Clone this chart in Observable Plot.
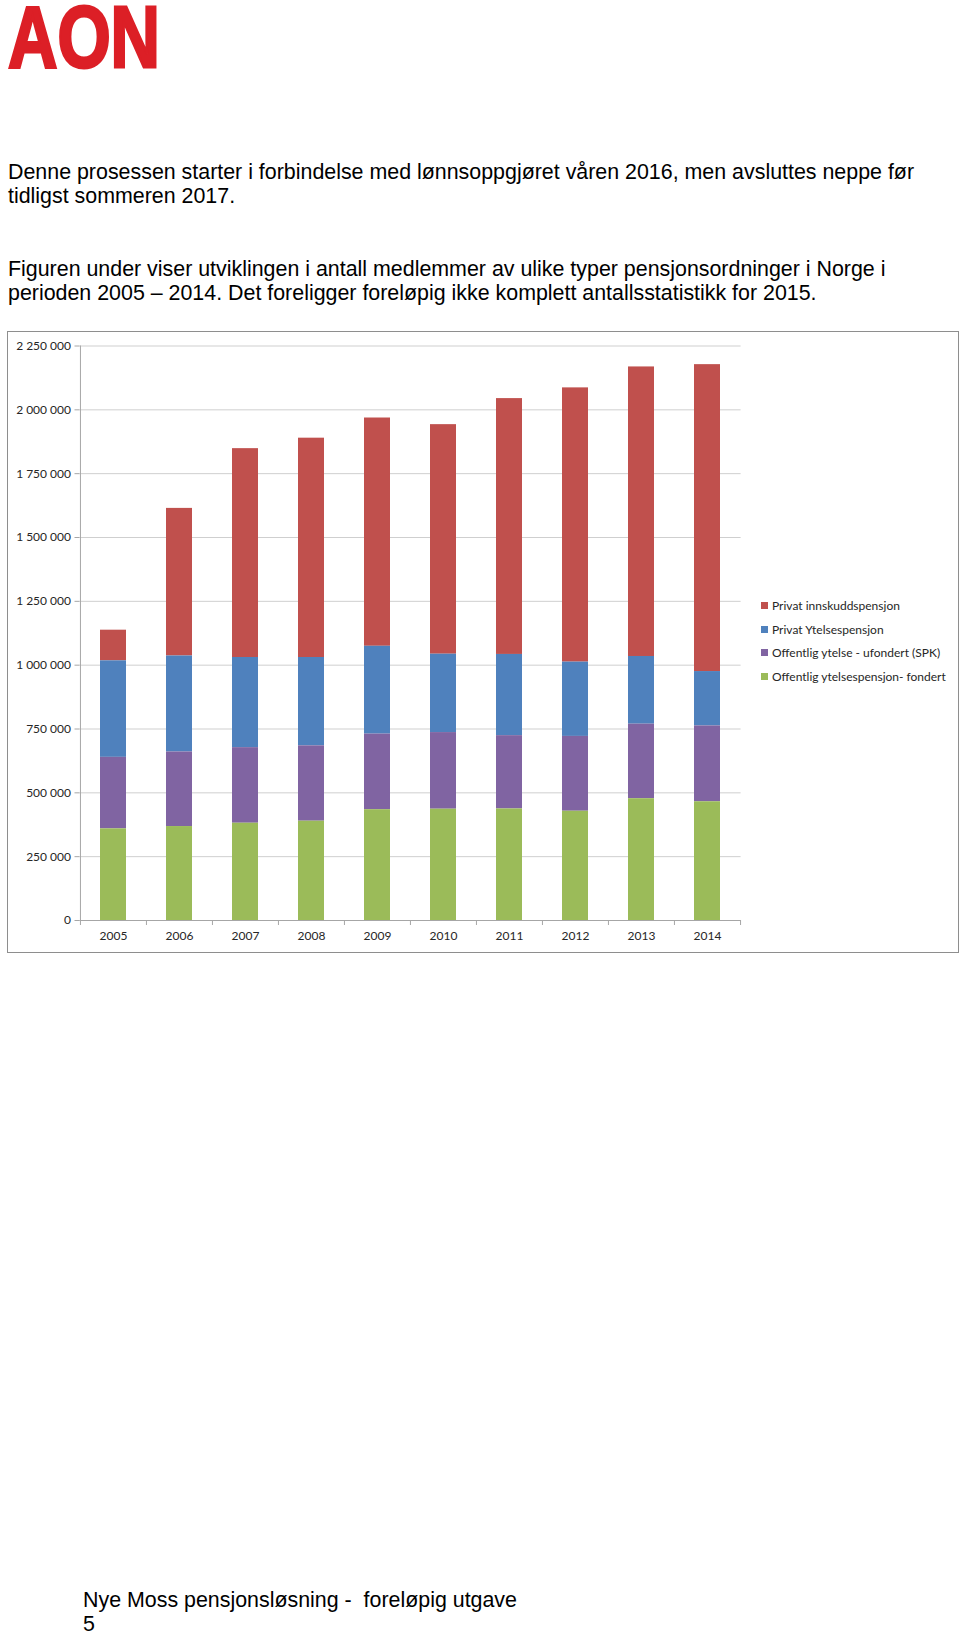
<!DOCTYPE html>
<html><head><meta charset="utf-8">
<script src="https://cdn.jsdelivr.net/npm/d3@7"></script>
<script src="https://cdn.jsdelivr.net/npm/@observablehq/plot@0.6"></script>
<style>
html,body{margin:0;padding:0;background:#fff;}
body{width:960px;height:1635px;position:relative;overflow:hidden;font-family:"Liberation Sans",Arial,sans-serif;}
.p{position:absolute;left:8px;font-size:21.4px;line-height:24px;color:#000;white-space:nowrap;}
#logo{position:absolute;left:0;top:0;}
#frame{position:absolute;left:7px;top:331px;width:952px;height:622px;box-sizing:border-box;border:1.5px solid #8e8e8e;}
#chart{position:absolute;left:7px;top:331px;}
#legend{position:absolute;left:761px;top:594px;font-family:Lato,sans-serif;font-size:12px;color:#262626;}
.item{height:23.6px;display:flex;align-items:center;white-space:nowrap;}
.sw{width:7px;height:7px;margin-right:4px;flex:none;}
</style></head>
<body>
<svg id="logo" width="200" height="90"><text x="8" y="67" font-family="Liberation Sans" font-weight="bold" font-size="88" textLength="152" lengthAdjust="spacingAndGlyphs" fill="#dc1f26" stroke="#dc1f26" stroke-width="3">AON</text></svg>
<div class="p" style="top:160px">Denne prosessen starter i forbindelse med lønnsoppgjøret våren 2016, men avsluttes neppe før<br>tidligst sommeren 2017.</div>
<div class="p" style="top:257px">Figuren under viser utviklingen i antall medlemmer av ulike typer pensjonsordninger i Norge i<br>perioden 2005 – 2014. Det foreligger foreløpig ikke komplett antallsstatistikk for 2015.</div>
<div id="frame"></div>
<div id="chart"></div>
<div id="legend"></div>
<div class="p" style="top:1588px;left:83px">Nye Moss pensjonsløsning -&nbsp; foreløpig utgave<br>5</div>
<script>
const years = ["2005","2006","2007","2008","2009","2010","2011","2012","2013","2014"];
const privatInnskudd   = [120000, 578000, 818000, 859000, 894000, 899000, 1002000, 1074000, 1134000, 1202000];
const privatYtelse     = [378000, 376000, 353000, 346000, 344000, 307000, 318000, 291000, 265000, 213000];
const offentligUfondert= [280000, 292000, 296000, 295000, 296000, 300000, 287000, 293000, 292000, 297000];
const offentligFondert = [359000, 368000, 381000, 389000, 434000, 436000, 437000, 428000, 477000, 465000];
const seriesNames = ["Privat innskuddspensjon","Privat Ytelsespensjon","Offentlig ytelse - ufondert (SPK)","Offentlig ytelsespensjon- fondert"];
const seriesColors = ["#c0504d","#4f81bd","#8064a2","#9bbb59"];
const yTicks = [0,250000,500000,750000,1000000,1250000,1500000,1750000,2000000,2250000];

const seriesValues = [privatInnskudd, privatYtelse, offentligUfondert, offentligFondert];
const rows = [];
seriesValues.forEach((vals, s) => vals.forEach((v, i) => rows.push({year: years[i], series: seriesNames[s], value: v})));

const W = 952, H = 622, ml = 72.5, mr = 218.4, mt = 14.5, mb = 33;
const step = (W - ml - mr) / years.length;
const fmt = d3.formatLocale({thousands: " ", grouping: [3], decimal: ",", currency: ["", ""]}).format(",");
const gridColor = "#cfcfcf", axisColor = "#a6a6a6";

const chart = Plot.plot({
  width: W, height: H,
  marginLeft: ml, marginRight: mr, marginTop: mt, marginBottom: mb,
  style: {fontFamily: "Lato, sans-serif", fontSize: "12px", color: "#262626", background: "transparent"},
  x: {type: "band", domain: years, paddingInner: 0.607, paddingOuter: 0.3035},
  y: {domain: [0, 2250000]},
  color: {domain: seriesNames, range: seriesColors},
  marks: [
    Plot.gridY({ticks: yTicks, stroke: gridColor, strokeOpacity: 1}),
    Plot.barY(rows, Plot.stackY({x: "year", y: "value", z: "series", fill: "series",
      order: [seriesNames[3], seriesNames[2], seriesNames[1], seriesNames[0]]})),
    Plot.ruleY([0], {stroke: axisColor}),
    Plot.ruleX([years[0]], {dx: -step / 2, y1: 0, y2: 2250000, stroke: axisColor}),
    Plot.axisY({ticks: yTicks, tickFormat: fmt, tickSize: 5, tickPadding: 4, stroke: axisColor, label: null}),
    Plot.axisX({ticks: years, tickSize: 5, tickFormat: () => "", dx: -step / 2, stroke: axisColor, label: null}),
    Plot.axisX({ticks: [years[years.length - 1]], tickSize: 5, tickFormat: () => "", dx: step / 2, stroke: axisColor, label: null}),
    Plot.axisX({ticks: years, tickSize: 0, tickPadding: 11, label: null})
  ]
});
document.getElementById("chart").appendChild(chart);

const legend = document.getElementById("legend");
seriesNames.forEach((name, i) => {
  const item = document.createElement("div");
  item.className = "item";
  const sw = document.createElement("span");
  sw.className = "sw";
  sw.style.background = seriesColors[i];
  item.appendChild(sw);
  item.appendChild(document.createTextNode(name));
  legend.appendChild(item);
});
</script>
</body></html>
